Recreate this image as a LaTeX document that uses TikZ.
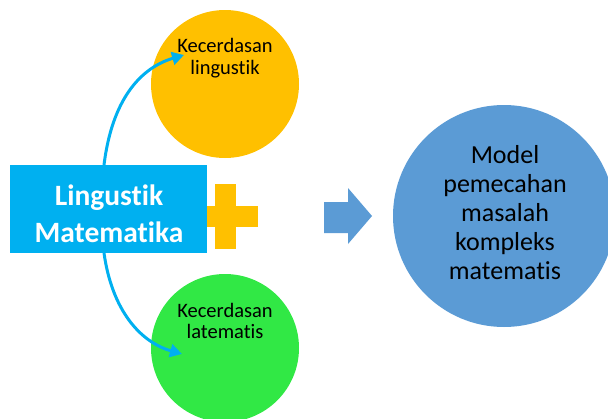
\documentclass[tikz,border=0pt]{standalone}
\usepackage{fontspec}
\setmainfont{Carlito}[Ligatures={NoCommon,NoRare,NoDiscretionary}]
\usetikzlibrary{arrows.meta}
\definecolor{orangeC}{HTML}{FFC000}
\definecolor{greenC}{HTML}{31E845}
\definecolor{cyanC}{HTML}{00B0F0}
\definecolor{blueC}{HTML}{5B9BD5}
\tikzset{
  bubble/.style={circle, inner sep=0pt, minimum size=#1},
  smalltxt/.style={align=center, font=\fontsize{20.5}{21.5}\selectfont, text=black},
  bigtxt/.style={align=center, font=\fontsize{26}{29}\selectfont, text=black},
  curvearrow/.style={draw=cyanC, line width=3pt, -{Triangle[length=12pt,width=13pt]}},
}
\begin{document}
\begin{tikzpicture}[x=1pt,y=-1pt]
\useasboundingbox (0,0) rectangle (608,418);
% circles
\node[bubble=148pt, fill=orangeC] (orange) at (225,84) {};
\node[bubble=148pt, fill=greenC] (green) at (225,348) {};
\node[bubble=222pt, fill=blueC] (big) at (504,216) {};
% plus sign
\fill[orangeC] (215,184) rectangle (236,249);
\fill[orangeC] (193,206) rectangle (258,227);
% main rectangle
\node[fill=cyanC, minimum width=197pt, minimum height=88pt, inner sep=0pt] (rect) at (108.5,209) {};
\node[align=center, text=white, font=\fontsize{29.5}{37}\selectfont\bfseries] (recttxt) at (109,214) {Lingustik\\Matematika};
% texts
\node[smalltxt] (otxt) at (225,58) {Kecerdasan\\lingustik};
\node[smalltxt] (gtxt) at (225,321) {Kecerdasan\\latematis};
\node[bigtxt] (btxt) at (505,213) {Model\\pemecahan\\masalah\\kompleks\\matematis};
% block arrow
\fill[blueC] (324,202) -- (348,202) -- (348,188) -- (372,216) -- (348,244) -- (348,233) -- (324,233) -- cycle;
% curved arrows
\coordinate (topstart) at (104,165);
\coordinate (toptip) at (184,55);
\coordinate (botstart) at (104,253);
\coordinate (bottip) at (182,354);
\draw[curvearrow] (topstart) .. controls (112,100) and (140,68) .. (toptip);
\draw[curvearrow] (botstart) .. controls (112,310) and (140,342) .. (bottip);
\end{tikzpicture}
\end{document}
